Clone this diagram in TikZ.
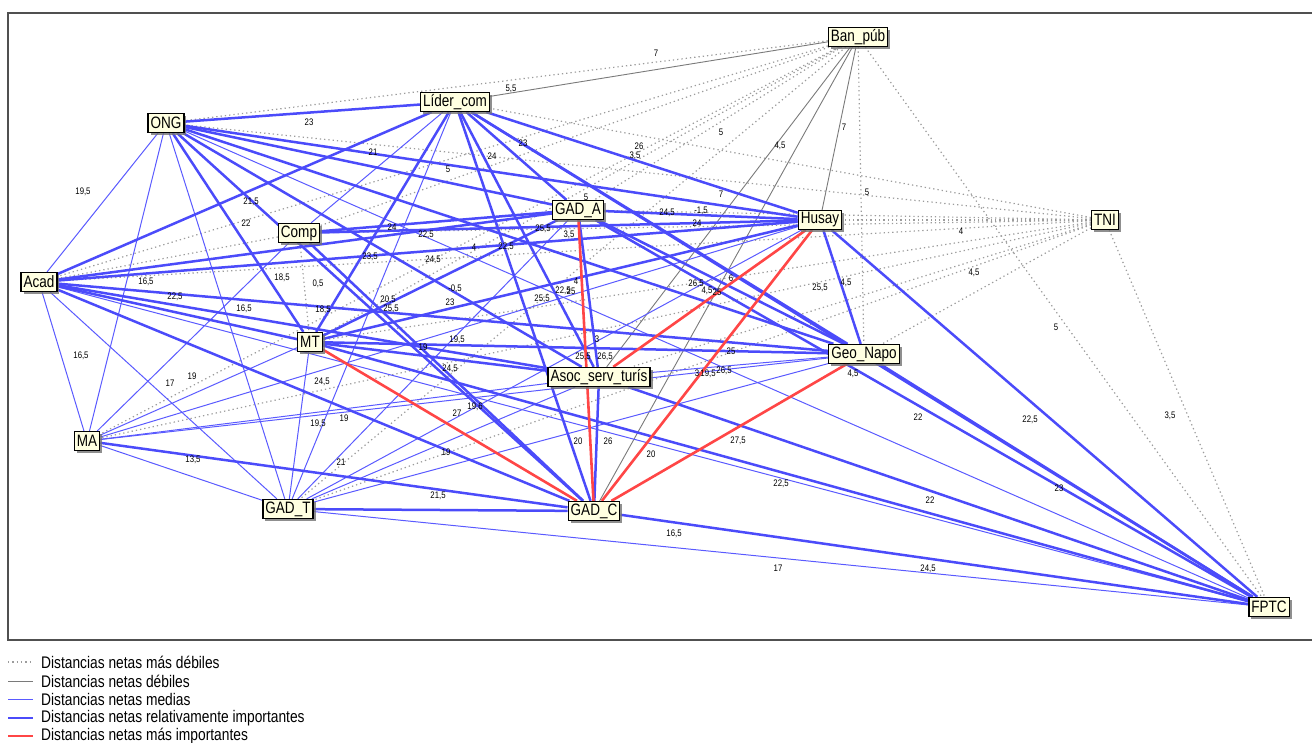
\documentclass[tikz,border=0pt]{standalone}
\usepackage{fontspec}
\setmainfont{Liberation Sans}
\newfontfamily\nf[FakeStretch=0.82]{Liberation Sans}
\usetikzlibrary{shadows}
\pgfdeclarelayer{bg}
\pgfsetlayers{bg,main}
\definecolor{nodefill}{HTML}{FFFFE1}
\definecolor{eblue}{HTML}{4B4BFA}
\definecolor{lblue}{HTML}{5A5AFF}
\definecolor{ered}{HTML}{FF4646}
\definecolor{egray}{HTML}{7A7A7A}
\definecolor{edot}{HTML}{9C9C9C}
\definecolor{framec}{HTML}{505050}
\begin{document}
\begin{tikzpicture}[x=1pt,y=-1pt,
  box/.style={draw=black, line width=1.3pt, fill=nodefill, inner xsep=2.5pt, inner ysep=1pt,
    minimum height=19pt, font=\nf\fontsize{16.5}{16.5}\selectfont,
    drop shadow={shadow xshift=2.5pt, shadow yshift=-2.5pt, fill=black!55, opacity=0.8}},
  lab/.style={font=\nf\fontsize{9.5}{9.5}\selectfont, inner sep=0pt, text=black},
  legtext/.style={font=\nf\fontsize{16.8}{16.8}\selectfont, inner sep=0pt, anchor=west},
  wk/.style={draw=edot, line width=1.2pt, dash pattern=on 1.3pt off 3pt},
  wg/.style={draw=egray, line width=0.9pt},
  md/.style={draw=lblue, line width=1pt},
  ri/.style={draw=eblue, line width=2.5pt},
  mi/.style={draw=ered, line width=2.6pt}]
\useasboundingbox (0,0) rectangle (1312,742);
\draw[framec, line width=1.6pt] (1312,13) -- (8,13) -- (8,640) -- (1312,640);

% nodes
\node[box] (BP)  at (858,37)  {Ban\_púb};
\node[box] (LC)  at (455,102) {Líder\_com};
\node[box] (ONG) at (166,123) {ONG};
\node[box] (GA)  at (578,210) {GAD\_A};
\node[box] (HU)  at (820,220) {Husay};
\node[box] (TNI) at (1105,220) {TNI};
\node[box] (CO)  at (299,233) {Comp};
\node[box] (AC)  at (39,282)  {Acad};
\node[box] (MT)  at (310,342) {MT};
\node[box] (GN)  at (864,354) {Geo\_Napo};
\node[box] (AS)  at (599,377) {Asoc\_serv\_turís};
\node[box] (MA)  at (87,441)  {MA};
\node[box] (GT)  at (288,509) {GAD\_T};
\node[box] (GC)  at (594,511) {GAD\_C};
\node[box] (FP)  at (1269,607) {FPTC};

\begin{pgfonlayer}{bg}
\foreach \a/\b in {BP/ONG, BP/GA, BP/CO, BP/AC, BP/MT, BP/GN, BP/FP, BP/MA, BP/GT,
  TNI/ONG, TNI/LC, TNI/GA, TNI/HU, TNI/CO, TNI/AC, TNI/MT, TNI/GN, TNI/AS, TNI/MA,
  TNI/GT, TNI/FP, CO/MT, CO/AC}
  \draw[wk] (\a) -- (\b);
\foreach \a/\b in {BP/LC, BP/HU, BP/AS, BP/GC}
  \draw[wg] (\a) -- (\b);
\foreach \a/\b in {ONG/AC, ONG/MA, ONG/GT, ONG/FP, AC/MA, AC/GT, AC/FP, LC/CO, LC/GT,
  MA/GT, MA/CO, MA/MT, MA/AS, MA/GN, MA/HU, MT/GT, GT/FP, GT/GA, GT/HU, GT/AS, GT/GN, AS/GN}
  \draw[md] (\a) -- (\b);
\foreach \a/\b in {ONG/LC, ONG/HU, ONG/GA, ONG/GN, ONG/AS, ONG/GC, ONG/MT,
  LC/AC, LC/MT, LC/GA, LC/HU, LC/GN, LC/AS, LC/GC, LC/FP,
  AC/GA, AC/HU, AC/GN, AC/MT, AC/AS, AC/GC, MA/GC,
  MT/GA, MT/HU, MT/AS, MT/GN, MT/FP, GT/GC, GC/AS, GC/FP, GC/CO,
  HU/GA, HU/FP, HU/CO, GA/GN, GA/FP, GA/AS, GA/CO, GN/FP, AS/FP, HU/GN}
  \draw[ri] (\a) -- (\b);
\foreach \a/\b in {MT/GC, GA/GC, AS/HU, GC/HU, GC/GN}
  \draw[mi] (\a) -- (\b);
\end{pgfonlayer}

% edge labels
\foreach \x/\y/\t [count=\i] in {656/53/7, 511/89/{5,5}, 309/122/23, 373/152/21, 448/169/5,
  492/156/24, 523/143/23, 639/146/26, 635/156/{3,5}, 721/132/5, 780/146/{4,5}, 844/127/7,
  867/192/5, 721/194/7, 586/197/5, 667/213/{24,5}, 701/211/{-1,5}, 697/223/24,
  83/192/{19,5}, 251/202/{21,5}, 246/223/22, 392/227/24, 426/235/{22,5}, 543/229/{25,5},
  569/235/{3,5}, 474/247/4, 506/247/{22,5}, 370/257/{23,5}, 433/260/{24,5}, 961/231/4,
  974/273/{4,5}, 146/282/{16,5}, 175/297/{22,5}, 244/309/{16,5}, 282/278/{18,5},
  318/284/{0,5}, 323/310/{18,5}, 388/300/{20,5}, 391/309/{25,5}, 455/289/{-0,5},
  450/302/23, 576/281/4, 563/291/{22,5}, 571/291/25, 542/299/{25,5}, 696/284/{26,5},
  707/291/{4,5}, 717/292/25, 731/278/6, 820/288/{25,5}, 846/283/{4,5}, 1056/327/5,
  597/339/3, 457/340/{19,5}, 423/347/19, 583/357/{25,5}, 605/357/{26,5}, 731/351/25,
  697/373/3, 708/374/{19,5}, 724/371/{26,5}, 853/374/{4,5}, 81/356/{16,5}, 170/383/17,
  192/376/19, 322/382/{24,5}, 450/369/{24,5}, 457/413/27, 475/407/{19,6}, 318/424/{19,5},
  344/418/19, 341/462/21, 446/452/19, 578/441/20, 608/441/26, 651/454/20, 738/441/{27,5},
  918/417/22, 1030/420/{22,5}, 1170/416/{3,5}, 193/460/{13,5}, 438/496/{21,5},
  781/484/{22,5}, 930/500/22, 1059/488/23, 674/534/{16,5}, 778/568/17, 928/569/{24,5}}
  \node[lab] (l\i) at (\x,\y) {\t};

% legend
\draw[wk] (8,662) -- (33,662);
\draw[wg] (8,681) -- (33,681);
\draw[md] (8,699) -- (33,699);
\draw[ri] (8,718) -- (33,718);
\draw[mi] (8,736) -- (33,736);
\node[legtext] (g1) at (41,662) {Distancias netas más débiles};
\node[legtext] (g2) at (41,681) {Distancias netas débiles};
\node[legtext] (g3) at (41,699) {Distancias netas medias};
\node[legtext] (g4) at (41,718) {Distancias netas relativamente importantes};
\node[legtext] (g5) at (41,736) {Distancias netas más importantes};
\end{tikzpicture}
\end{document}
